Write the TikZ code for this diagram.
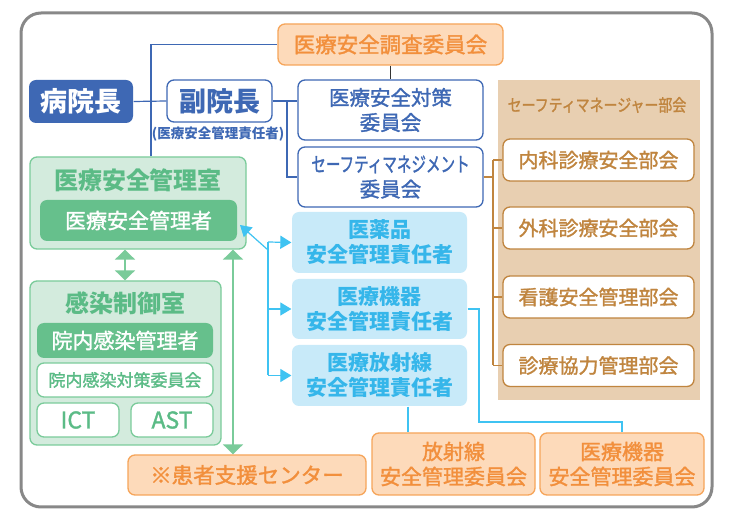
\documentclass[tikz,border=0pt]{standalone}
\usepackage{fontspec}
\setmainfont{Noto Sans CJK JP}
\newfontfamily\medfont[FakeBold=1.5]{Noto Sans CJK JP}
\usepackage{graphicx}
\usetikzlibrary{arrows.meta}
\definecolor{myblue}{RGB}{62,104,180}
\definecolor{orBorder}{RGB}{246,165,90}
\definecolor{orFill}{RGB}{253,218,186}
\definecolor{orText}{RGB}{242,143,60}
\definecolor{brMain}{RGB}{192,133,63}
\definecolor{tanFill}{RGB}{232,207,177}
\definecolor{grBorder}{RGB}{122,203,154}
\definecolor{grPanel}{RGB}{211,235,221}
\definecolor{grDark}{RGB}{102,192,140}
\definecolor{grText}{RGB}{91,187,134}
\definecolor{cyFill}{RGB}{200,234,249}
\definecolor{cyText}{RGB}{53,182,234}
\definecolor{cyLine}{RGB}{63,195,242}
\definecolor{frameGray}{RGB}{136,136,136}
\newcommand{\fsz}[2]{\fontsize{#1}{#2}\selectfont}
\begin{document}
\begin{tikzpicture}[x=1pt,y=-1pt,
  box/.style={rounded corners=7pt, inner sep=0pt, align=center, line width=1.3pt},
  bluebox/.style={box, draw=myblue, fill=white, text=myblue},
  orangebox/.style={box, draw=orBorder, fill=orFill, text=orText},
  brownbox/.style={box, draw=brMain, fill=white, text=brMain},
  greenpanel/.style={box, draw=grBorder, fill=grPanel},
  greendark/.style={box, fill=grDark, text=white},
  greenwhite/.style={box, draw=grBorder, fill=white, text=grText},
  cyanbox/.style={box, fill=cyFill, text=cyText},
  blueline/.style={draw=myblue, line width=1.2pt},
  brownline/.style={draw=brMain, line width=1.2pt},
  cyanline/.style={draw=cyLine, line width=1.2pt},
  cyanarrow/.style={cyanline, -{Triangle[width=13pt,length=11pt]}},
  greenarrow/.style={draw=grBorder, line width=1.8pt, {Triangle[width=20pt,length=10pt]}-{Triangle[width=20pt,length=10pt]}},
  darkline/.style={draw=black!80, line width=1.2pt}
]
\useasboundingbox (0,0) rectangle (745,510);
\node[draw=frameGray, fill=white, line width=3pt, rounded corners=20pt, minimum width=691pt, minimum height=494pt, inner sep=0pt] (frame) at (366.5,260) {};

% panels
\node[fill=tanFill, minimum width=202pt, minimum height=320pt, inner sep=0pt] (smpanel) at (599,240) {};
\node[text=brMain, inner sep=0pt, font=\medfont\fsz{17}{20}] (smtitle) at (597,105) {\scalebox{0.82}[1]{セーフティマネージャー部会}};
\node[greenpanel, minimum width=216pt, minimum height=92pt] (kanrishitsu) at (138,203) {};
\node[text=grText, inner sep=0pt, font=\fsz{24}{28}\bfseries] (kstitle) at (138,180) {医療安全管理室};
\node[greenpanel, minimum width=191pt, minimum height=164pt] (kansen) at (125.5,363) {};
\node[text=grText, inner sep=0pt, font=\fsz{24}{28}\bfseries] (kntitle) at (125.5,303) {感染制御室};

% top boxes
\node[box, fill=myblue, text=white, minimum width=104pt, minimum height=43pt, font=\fsz{27}{30}\bfseries] (byoin) at (81,101.5) {病院長};
\node[bluebox, minimum width=105pt, minimum height=42pt, font=\fsz{27}{30}\bfseries] (fuku) at (219.5,101) {副院長};
\node[text=myblue, inner sep=0pt, font=\fsz{13.5}{15}\bfseries] (fukusub) at (218,134) {(医療安全管理責任者)};
\node[orangebox, minimum width=225pt, minimum height=41pt, font=\medfont\fsz{21.5}{25}] (chosa) at (390.5,44.5) {医療安全調査委員会};
\node[bluebox, minimum width=185pt, minimum height=60pt, font=\medfont\fsz{20.5}{25}] (taisaku) at (390.5,110) {医療安全対策\\委員会};
\node[bluebox, minimum width=185pt, minimum height=60pt, font=\medfont\fsz{20.5}{25}] (sm) at (390.5,177) {\scalebox{0.71}[1]{セーフティマネジメント}\\委員会};

% SM subcommittees
\tikzset{sub/.style={brownbox, minimum width=191pt, minimum height=42pt, font=\medfont\fsz{20}{25}}}
\node[sub] (naika) at (598.5,160) {内科診療安全部会};
\node[sub] (geka) at (598.5,228) {外科診療安全部会};
\node[sub] (kango) at (598.5,297) {看護安全管理部会};
\node[sub] (kyoryoku) at (598.5,365.5) {診療協力管理部会};

% green inner
\node[greendark, minimum width=197pt, minimum height=41pt, font=\medfont\fsz{21}{25}] (kanrisha) at (138.5,220.5) {医療安全管理者};
\node[greendark, minimum width=176pt, minimum height=35pt, font=\medfont\fsz{21}{25}] (innai) at (125,340.5) {院内感染管理者};
\node[greenwhite, minimum width=176pt, minimum height=34pt, font=\medfont\fsz{17}{20}] (iinkai) at (125,380) {院内感染対策委員会};
\node[greenwhite, minimum width=82pt, minimum height=34pt, font=\medfont\fsz{23}{25}] (ict) at (78,420) {ICT};
\node[greenwhite, minimum width=82pt, minimum height=34pt, font=\medfont\fsz{23}{25}] (ast) at (172,420) {AST};

% cyan boxes
\tikzset{cy/.style={cyanbox, minimum width=175pt, font=\fsz{21}{25}\bfseries}}
\node[cy, minimum height=61pt] (iyaku) at (379.5,242.5) {医薬品\\安全管理責任者};
\node[cy, minimum height=60pt] (kiki) at (379.5,309) {医療機器\\安全管理責任者};
\node[cy, minimum height=61pt] (hosha) at (379.5,375.5) {医療放射線\\安全管理責任者};

% bottom orange
\node[orangebox, minimum width=238pt, minimum height=40pt, font=\medfont\fsz{21.5}{25}] (kanja) at (247,475) {※患者支援センター};
\node[orangebox, minimum width=163pt, minimum height=62pt, font=\medfont\fsz{21}{25}] (hoshaiin) at (453.5,464) {放射線\\安全管理委員会};
\node[orangebox, minimum width=164pt, minimum height=62pt, font=\medfont\fsz{21}{25}] (kikiiin) at (622,464) {医療機器\\安全管理委員会};

% connectors: blue
\coordinate (tj) at (151,44);
\draw[blueline] (kanrishitsu.north -| tj) -- (tj |- chosa.west) -- (chosa.west);
\draw[blueline] (byoin.east) -- (fuku.west);
\coordinate (ft) at (287,101);
\draw[blueline] (fuku.east) -- (taisaku.west |- fuku.east);
\draw[blueline] (ft) |- (sm.west);
\draw[darkline] (chosa.south) -- (taisaku.north);

% brown
\coordinate (bt) at (493,0);
\draw[brownline] (sm.east) -- (sm.east -| bt);
\draw[brownline] (naika.west -| bt) -- (kyoryoku.west -| bt);
\foreach \n in {naika,geka,kango,kyoryoku} \draw[brownline] (\n.west -| bt) -- (\n.west);

% cyan
\coordinate (cj) at (268,242);
\coordinate (cd) at (268,250);
\coordinate (ctip) at (240,225);
\draw[cyanarrow] (cd) -- (ctip);
\draw[cyanline] (cj) -- (cj |- hosha.west);
\draw[cyanarrow] (cj) -- (iyaku.west);
\draw[cyanarrow] (cj |- kiki.west) -- (kiki.west);
\draw[cyanarrow] (cj |- hosha.west) -- (hosha.west);
\coordinate (hx) at (408,0);
\draw[cyanline] (hx |- hosha.south) -- (hx |- hoshaiin.north);
\coordinate (kx) at (479,422);
\draw[cyanline] (kiki.east) -- (kiki.east -| kx) -- (kx) -- (kx -| kikiiin.north) -- (kikiiin.north);

% green arrows
\coordinate (ga) at (125,0);
\coordinate (gb) at (233,0);
\draw[greenarrow] (ga |- kanrishitsu.south) -- (ga |- kansen.north);
\draw[greenarrow] (gb |- kanrishitsu.south) -- (gb |- kanja.north);
\end{tikzpicture}
\end{document}
